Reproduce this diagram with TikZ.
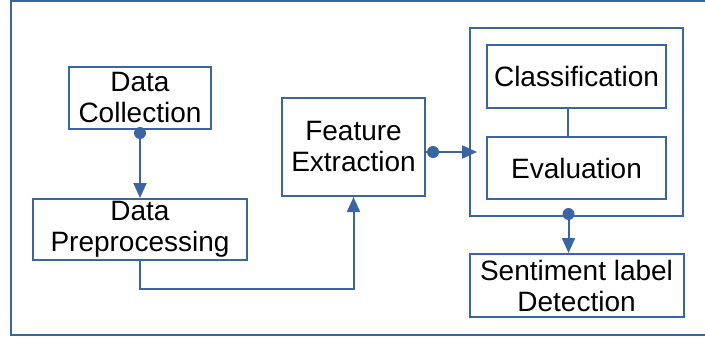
\documentclass[tikz,border=0pt]{standalone}
\usepackage{fontspec}
\setmainfont{Liberation Sans}
\usetikzlibrary{positioning,fit,arrows.meta}
\definecolor{flowblue}{RGB}{59,100,163}

\begin{document}
\begin{tikzpicture}[
        x=0.5pt, y=0.5pt,
        stagenode/.style={
            rectangle,
            draw=flowblue,
            line width=1pt,
            align=center,
            inner ysep=1pt,
            font=\fontsize{14}{15.5}\selectfont,
            minimum width=71pt,
            minimum height=31pt
        },
        groupnode/.style={
            rectangle,
            draw=flowblue,
            line width=1pt,
            inner sep=8pt
        },
        flowline/.style={
            draw=flowblue,
            line width=1pt,
            -{Triangle[length=7.5pt,width=6.5pt]}
        },
        flowdot/.style={
            fill=flowblue
        }
    ]

        \clip (0,0) rectangle (705,338);
        \draw[flowblue, line width=1pt] (11,3) rectangle (720,337);

        \node[stagenode] (collect) at (140,240)                                           {Data\\Collection};
        \node[stagenode, minimum width=107pt, minimum height=30.5pt] (prep) [below=34pt of collect] {Data\\Preprocessing};
        \node[stagenode, minimum width=71.5pt, minimum height=49pt] (feat) at (353.5,191) {Feature\\Extraction};

        \node[stagenode, minimum width=89.5pt, minimum height=31.5pt] (cls) at (576.5,261.5)       {Classification};
        \node[stagenode, minimum width=89.5pt, minimum height=31pt]   (eva) [below=13.5pt of cls] {Evaluation};
        \node[groupnode, fit=(cls)(eva)] (grp) {};
        \node[stagenode, minimum width=107pt, minimum height=31.5pt]  (sent) [below=18pt of grp]   {Sentiment label\\Detection};

        % connectors
        \draw[flowline] (collect.south) -- (prep.north);
        \fill[flowdot] ([yshift=-1.5pt]collect.south) circle (3pt);

        \draw[flowline] (prep.south) -- ++(0,-28) -| (feat.south);

        \draw[flowline, shorten >=-4pt] ([yshift=-2.5pt]feat.east) -- ([yshift=-2.5pt]feat.east -| grp.west);
        \fill[flowdot] ([xshift=3.5pt,yshift=-2.5pt]feat.east) circle (3pt);

        \draw[flowblue, line width=1pt] ([xshift=-4.5pt]cls.south) -- ([xshift=-4.5pt]eva.north);

        \draw[flowline] ([xshift=-4pt]grp.south) -- ([xshift=-4pt]sent.north);
        \fill[flowdot] ([xshift=-4pt,yshift=1.5pt]grp.south) circle (3pt);

    \end{tikzpicture}
\end{document}
